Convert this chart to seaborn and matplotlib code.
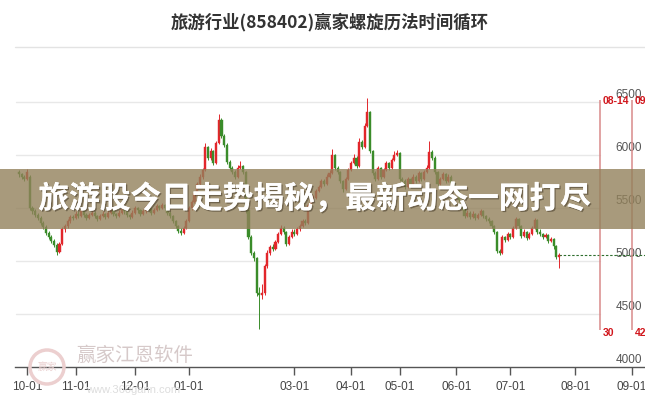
import numpy as np
import pandas as pd
import seaborn as sns
import matplotlib
matplotlib.use("Agg")
import matplotlib.pyplot as plt
from matplotlib.patches import Rectangle, Circle
from matplotlib.lines import Line2D
import matplotlib.patheffects as pe
import matplotlib.transforms as mtransforms

sns.set_style("white")
plt.rcParams['font.family'] = ['Noto Sans CJK SC', 'DejaVu Sans']

title = "旅游行业(858402)赢家螺旋历法时间循环"
banner = "旅游股今日走势揭秘，最新动态一网打尽"

opens = [5840,5820,5800,5780,5800,5500,5470,5440,5410,5360,
         5320,5270,5230,5190,5150,5090,5160,5300,5330,5380,
         5420,5410,5450,5430,5470,5440,5410,5440,5460,5430,
         5400,5430,5450,5420,5460,5480,5450,5430,5460,5490,
         5470,5440,5420,5460,5500,5480,5450,5470,5510,5490,
         5460,5480,5520,5500,5530,5500,5460,5430,5380,5330,
         5290,5270,5310,5380,5500,5560,5640,5730,5800,5860,
         6080,5980,6040,5930,6120,6330,6180,6100,5940,5880,
         5840,5800,5880,5900,5840,5480,5230,5080,5030,4700,
         4680,4700,4950,5080,5130,5120,5180,5260,5310,5280,
         5160,5230,5280,5260,5300,5330,5380,5360,5530,5580,
         5600,5660,5700,5760,5730,5800,5830,6000,5880,5840,
         5760,5680,5780,5860,5930,5980,5900,6130,6080,6280,
         6410,6040,5830,5780,5880,5800,5860,5930,5880,5960,
         6000,6020,5780,5760,5700,5780,5730,5800,5760,5830,
         5780,5840,5880,6030,5980,5840,5730,5780,5820,5760,
         5800,5740,5700,5660,5580,5500,5430,5460,5420,5450,
         5410,5440,5470,5430,5400,5380,5330,5280,5100,5080,
         5230,5200,5260,5230,5310,5400,5330,5240,5280,5220,
         5260,5310,5390,5280,5260,5230,5250,5190,5210,5140,
         5040]
closes = [5820,5800,5780,5840,5500,5470,5440,5410,5360,5320,
          5270,5230,5190,5150,5090,5160,5300,5330,5380,5420,
          5410,5450,5430,5470,5440,5410,5440,5460,5430,5400,
          5430,5450,5420,5460,5480,5450,5430,5460,5490,5470,
          5440,5420,5460,5500,5480,5450,5470,5510,5490,5460,
          5480,5520,5500,5530,5500,5460,5430,5380,5330,5290,
          5270,5310,5380,5500,5560,5640,5730,5800,5860,6080,
          5980,6040,5930,6120,6330,6180,6100,5940,5880,5840,
          5800,5880,5900,5840,5480,5230,5080,5030,4700,4680,
          4700,4950,5080,5130,5120,5180,5260,5310,5280,5160,
          5230,5280,5260,5300,5330,5380,5360,5530,5580,5600,
          5660,5700,5760,5730,5800,5830,6000,5880,5840,5760,
          5680,5780,5860,5930,5980,5900,6130,6080,6280,6410,
          6040,5830,5780,5880,5800,5860,5930,5880,5960,6000,
          6020,5780,5760,5700,5780,5730,5800,5760,5830,5780,
          5840,5880,6030,5980,5840,5730,5780,5820,5760,5800,
          5740,5700,5660,5580,5500,5430,5460,5420,5450,5410,
          5440,5470,5430,5400,5380,5330,5280,5100,5080,5230,
          5200,5260,5230,5310,5400,5330,5240,5280,5220,5260,
          5310,5390,5280,5260,5230,5250,5190,5210,5140,5040,
          5060]
highs = [5860,5830,5810,5870,5810,5520,5490,5460,5430,5380,
         5340,5290,5250,5210,5170,5180,5320,5350,5400,5440,
         5440,5470,5470,5490,5480,5460,5460,5480,5470,5440,
         5450,5470,5460,5480,5500,5490,5460,5480,5510,5500,
         5480,5450,5480,5520,5510,5490,5490,5530,5520,5500,
         5500,5540,5530,5550,5540,5510,5470,5440,5390,5340,
         5310,5330,5400,5520,5580,5660,5750,5820,5880,6120,
         6090,6070,6050,6140,6390,6350,6200,6120,5960,5900,
         5860,5910,5950,5910,5850,5490,5250,5100,5040,4760,
         4780,4970,5110,5150,5160,5200,5280,5340,5330,5290,
         5250,5300,5300,5320,5350,5400,5400,5550,5600,5630,
         5680,5720,5780,5780,5820,5860,6060,6010,5900,5850,
         5770,5800,5880,5950,6010,5990,6160,6150,6310,6540,
         6420,6050,5850,5900,5890,5880,5950,5940,5980,6040,
         6050,6030,5800,5780,5800,5790,5820,5810,5850,5840,
         5860,5910,6140,6050,5990,5850,5800,5840,5830,5820,
         5810,5750,5710,5670,5590,5510,5480,5470,5470,5460,
         5460,5490,5480,5440,5420,5390,5340,5290,5120,5250,
         5240,5280,5270,5330,5420,5410,5340,5300,5290,5280,
         5330,5410,5400,5300,5270,5270,5260,5230,5220,5150,
         5080]
lows = [5800,5780,5760,5770,5480,5450,5420,5390,5340,5300,
        5250,5210,5170,5130,5060,5080,5150,5280,5310,5360,
        5390,5400,5410,5420,5420,5390,5400,5430,5410,5380,
        5390,5420,5400,5410,5450,5430,5410,5420,5450,5450,
        5420,5400,5410,5450,5460,5430,5440,5460,5470,5440,
        5450,5470,5480,5490,5480,5440,5410,5360,5310,5270,
        5250,5260,5300,5370,5480,5550,5630,5710,5780,5850,
        5960,5960,5910,5920,6110,6160,6080,5920,5860,5820,
        5780,5790,5870,5820,5460,5210,5060,5000,4670,4360,
        4640,4680,4940,5060,5100,5110,5170,5250,5260,5140,
        5150,5220,5240,5250,5290,5320,5340,5350,5520,5560,
        5590,5650,5690,5710,5720,5790,5820,5860,5820,5740,
        5650,5670,5770,5850,5920,5880,5890,6060,6070,6270,
        6020,5810,5760,5770,5780,5790,5850,5860,5870,5950,
        5990,5760,5740,5680,5690,5710,5720,5740,5750,5760,
        5770,5830,5870,5960,5820,5710,5720,5770,5740,5750,
        5720,5680,5640,5560,5480,5410,5420,5400,5410,5390,
        5400,5430,5410,5380,5360,5310,5260,5080,5060,5070,
        5180,5190,5210,5220,5300,5310,5220,5230,5200,5210,
        5250,5300,5260,5240,5210,5220,5170,5180,5120,5020,
        4940]

tick_pos = [3, 21, 43, 63, 102, 123, 141, 162, 182, 206, 227]
tick_labels = ["10-01", "11-01", "12-01", "01-01", "03-01", "04-01",
               "05-01", "06-01", "07-01", "08-01", "09-01"]
y_ticks = [4000, 4500, 5000, 5500, 6000, 6500]
cycle_pos = [215, 227]
cycle_dates = ["08-14", "09-01"]
cycle_counts = ["30", "42"]
cycle_top = 6520
cycle_bottom = 4350

n = len(closes)
assert len(opens) == n and len(highs) == n and len(lows) == n, (len(opens), n, len(highs), len(lows))

df = pd.DataFrame({"i": np.arange(n), "open": opens, "close": closes,
                   "high": highs, "low": lows})
df["up"] = df["close"] >= df["open"]
UP, DOWN = "#e2262b", "#3a8c2a"
cols = np.where(df["up"], UP, DOWN)

W, H = 645, 400
fig = plt.figure(figsize=(6.45, 4.0), dpi=100)
fig.patch.set_facecolor("white")
ax = fig.add_axes([15 / W, 33 / H, 630 / W, 279 / H])
ax.set_facecolor("none")
ax.set_xlim(-1.48, 231.85)
ax.set_ylim(4000, 6637)

# grid
for v in y_ticks[1:]:
    ax.axhline(v, xmin=1 / 630, xmax=585 / 630, color="#e8e8e8", lw=1, zorder=0)

# candles
ax.vlines(df["i"], df["low"], df["high"], colors=cols, lw=0.7, zorder=2)
ax.bar(df["i"], (df["close"] - df["open"]).abs().clip(lower=6),
       bottom=df[["open", "close"]].min(axis=1), width=0.78,
       color=cols, edgecolor=cols, linewidth=0.3, zorder=3)

# last close dashed line
ax.hlines(closes[-1], n - 1, ax.get_xlim()[1], colors="#2f6f2f", lw=0.8,
          linestyles=(0, (2.2, 1.6)), zorder=2)

# cycle lines
ax.vlines(cycle_pos, cycle_bottom, cycle_top, colors="#d98a8a", lw=1.1, zorder=2)
for p, d, c in zip(cycle_pos, cycle_dates, cycle_counts):
    t1 = mtransforms.offset_copy(ax.transData, fig=fig, x=3, y=0, units="dots")
    ax.text(p, cycle_top - 10, d, transform=t1, ha="left", va="center",
            fontsize=7.5, fontweight="bold", color="#d1161c",
            family=["Liberation Sans", "DejaVu Sans"], zorder=4, clip_on=False)
    t2 = mtransforms.offset_copy(ax.transData, fig=fig, x=3, y=-3, units="dots")
    ax.text(p, cycle_bottom, c, transform=t2, ha="left", va="center",
            fontsize=7.5, fontweight="bold", color="#d1161c",
            family=["Liberation Sans", "DejaVu Sans"], zorder=4, clip_on=False)

# y labels at right, just above gridlines
tr = mtransforms.offset_copy(
    mtransforms.blended_transform_factory(ax.transAxes, ax.transData),
    fig=fig, x=0, y=1.5, units="dots")
for v in y_ticks:
    ax.text(627 / 630, v, str(v), transform=tr, ha="right", va="bottom",
            fontsize=8.5, color="#555555",
            family=["Liberation Sans", "DejaVu Sans"], zorder=1)

# axes styling
for s in ["top", "right", "left"]:
    ax.spines[s].set_visible(False)
ax.spines["bottom"].set_color("#555555")
ax.spines["bottom"].set_linewidth(1)
ax.set_yticks([])
ax.set_xticks(tick_pos)
ax.set_xticklabels(tick_labels, family=["Liberation Sans", "DejaVu Sans"])
ax.tick_params(axis="x", length=6, width=1, color="#555555", labelsize=8.5,
               labelcolor="#444444", pad=4, direction="out", bottom=True)

# watermark
fig.add_artist(Circle((0.47, 0.33), 0.17, transform=fig.dpi_scale_trans,
                      facecolor="none", edgecolor="#eccfcf", lw=2.5, zorder=1))
fig.text(47 / W, 33 / H, "赢家", ha="center", va="center", fontsize=7,
         color="#ead0d0", zorder=1)
fig.text(135 / W, (H - 355) / H, "赢家江恩软件", ha="center", va="center",
         fontsize=14, color="#d6c9c9", zorder=1)
fig.text(133 / W, (H - 390) / H, "www.360gann.com", ha="center", va="center",
         fontsize=8, color="#dddddd", family=["Liberation Sans", "DejaVu Sans"],
         zorder=1)

# title and separator
fig.text(330 / W, (H - 22) / H, title, ha="center", va="center", fontsize=12.5,
         fontweight="bold", color="#333333")
fig.add_artist(Line2D([15 / W, 1], [(H - 47) / H] * 2, color="#e3e3e3", lw=1))

# banner overlay
fig.add_artist(Rectangle((0, (H - 229) / H), 1, 60 / H, transform=fig.transFigure,
                         facecolor="#92815b", edgecolor="none", alpha=0.8, zorder=10))
fig.text(314 / W, (H - 199) / H, banner, ha="center", va="center", fontsize=22.1,
         fontweight="bold", color="white", zorder=11,
         path_effects=[pe.withSimplePatchShadow(offset=(1, -1), shadow_rgbFace="#3a3020", alpha=0.5),
                       pe.Normal()])

fig.savefig("out.png", dpi=100)
